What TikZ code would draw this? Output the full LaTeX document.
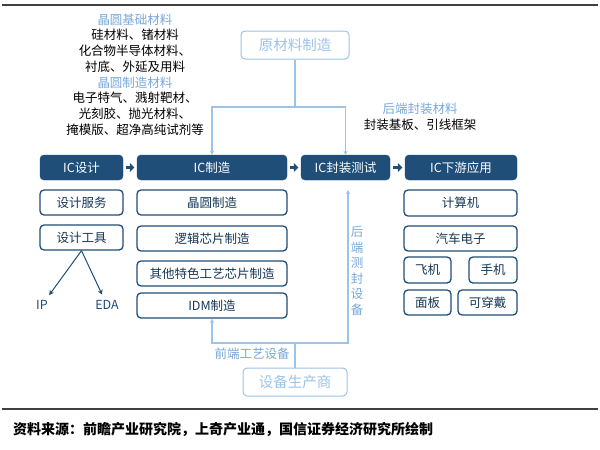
\documentclass[tikz,border=0pt]{standalone}
\usepackage{fontspec}
\setmainfont{Noto Sans CJK SC}
\usetikzlibrary{arrows.meta}
\definecolor{navy}{RGB}{31,78,121}
\definecolor{lightblue}{RGB}{157,195,230}
\definecolor{paleblue}{RGB}{120,168,218}

\begin{document}
\begin{tikzpicture}[x=1pt,y=-1pt,
    stage/.style={draw=navy,fill=navy,rounded corners=4pt,text=white,inner sep=0pt,minimum height=25pt,font=\fontsize{12.5}{14}\selectfont},
    item/.style={draw=navy,line width=1.3pt,fill=white,rounded corners=4pt,text=navy!70!black,inner sep=0pt,minimum height=25pt,font=\fontsize{12.5}{14}\selectfont},
    supplier/.style={draw=lightblue,line width=1pt,rounded corners=4pt,text=lightblue,inner sep=0pt,minimum height=28pt,font=\fontsize{14.5}{16}\selectfont},
    feed/.style={draw=lightblue,line width=1.2pt,-{Stealth[length=4pt,width=4pt]}},
    flow/.style={navy,line width=3.5pt,-{Triangle[length=4.5pt,width=9pt]},shorten <=3pt,shorten >=2.5pt},
    note/.style={align=center,inner sep=0pt,font=\fontsize{12.5}{15.7}\selectfont}]
        \useasboundingbox (0,0) rectangle (600,450);
        \fill[white] (0,0) rectangle (600,450);
        \draw[line width=2pt,black!75] (2,5) -- (598,5);
        \draw[line width=2pt,black!75] (2,409) -- (598,409);

        % chain
        \node[stage,minimum width=83pt] (design) at (81.5,167.5) {IC设计};
        \node[stage,minimum width=150pt] (fab) at (212,167.5) {IC制造};
        \node[stage,minimum width=89pt] (pkg) at (345.5,167.5) {IC封装测试};
        \node[stage,minimum width=112pt] (app) at (461,167.5) {IC下游应用};
        \draw[flow] (design) -- (fab);
        \draw[flow] (fab) -- (pkg);
        \draw[flow] (pkg) -- (app);

        \node[item,minimum width=83pt] (service) at (81.5,202.5) {设计服务};
        \node[item,minimum width=83pt] (tools) at (81.5,237.5) {设计工具};
        \node[text=navy,inner sep=1pt,font=\fontsize{12.5}{14}\selectfont] (ip) at (42,305) {IP};
        \node[text=navy,inner sep=1pt,font=\fontsize{12.5}{14}\selectfont] (eda) at (107,305) {EDA};
        \draw[navy,line width=1pt,-{Stealth[length=5pt,width=5pt]},shorten >=5pt] (tools.south) -- (ip);
        \draw[navy,line width=1pt,-{Stealth[length=5pt,width=5pt]},shorten >=5pt] (tools.south) -- (eda);

        \node[item,minimum width=150pt] (wafer) at (212,202.5) {晶圆制造};
        \node[item,minimum width=150pt] (logic) at (212,238.5) {逻辑芯片制造};
        \node[item,minimum width=150pt] (special) at (212,273.5) {其他特色工艺芯片制造};
        \node[item,minimum width=150pt] (idm) at (212,305.5) {IDM制造};

        \node[item,minimum width=113pt,minimum height=26pt] (pc) at (460.5,203) {计算机};
        \node[item,minimum width=113pt] (auto) at (460.5,238.5) {汽车电子};
        \node[item,minimum width=47pt,minimum height=26pt] (plane) at (427.5,270) {飞机};
        \node[item,minimum width=48pt,minimum height=26pt] (phone) at (493,270) {手机};
        \node[item,minimum width=47pt] (panel) at (427.5,302.5) {面板};
        \node[item,minimum width=59pt] (wear) at (487.5,302.5) {可穿戴};

        % materials
        \node[supplier,minimum width=108pt] (raw) at (295,45) {原材料制造};
        \node[note] (frontmat) at (135,74.5) {\textcolor{paleblue}{晶圆基础材料}\\硅材料、锗材料\\化合物半导体材料、\\衬底、外延及用料\\\textcolor{paleblue}{晶圆制造材料}\\电子特气、溅射靶材、\\光刻胶、抛光材料、\\掩模版、超净高纯试剂等};
        \node[note] (backmat) at (420,117) {\textcolor{paleblue}{后端封装材料}\\封装基板、引线框架};
        \coordinate (split) at (295,107);
        \draw[feed,-] (raw) -- (split);
        \draw[feed] (split) -| (fab);
        \draw[feed] (split) -| (pkg);

        % equipment
        \node[supplier,minimum width=104pt] (equip) at (295,382) {设备生产商};
        \node[note,text=paleblue,font=\fontsize{12.5}{15.5}\selectfont] (backeq) at (357,271) {后\\端\\测\\封\\设\\备};
        \node[note,text=paleblue,font=\fontsize{12.5}{14}\selectfont] (fronteq) at (252,354) {前端工艺设备};
        \coordinate (join) at (295,343);
        \coordinate (bktip) at (348,190);
        \draw[feed,-] (equip) -- (join);
        \draw[feed] (join) -| (idm);
        \draw[feed] (join) -| (bktip);

        \node[anchor=west,inner sep=0pt,font=\fontsize{14}{16}\selectfont\bfseries] (source) at (13,430) {资料来源：前瞻产业研究院，上奇产业通，国信证券经济研究所绘制};
\end{tikzpicture}
\end{document}
